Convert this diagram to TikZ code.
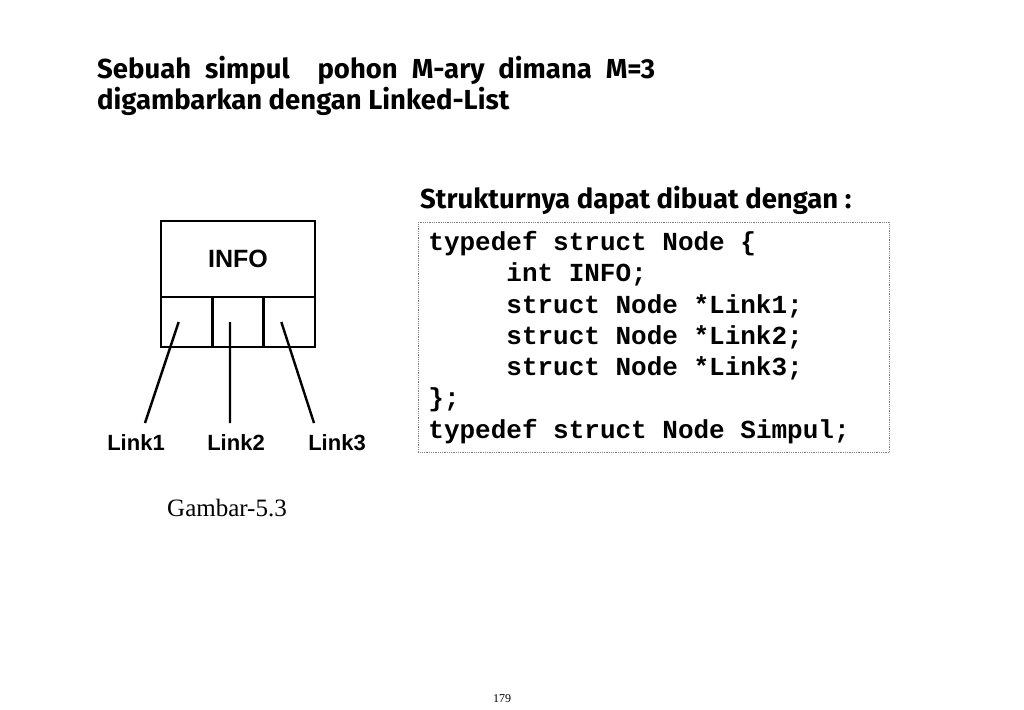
\documentclass[tikz,border=0pt]{standalone}
\usepackage{fontspec}
\usepackage{tikz}
\usetikzlibrary{positioning}
\setmainfont{Liberation Serif}
\newfontfamily\comicfont{Fira Sans}
\newfontfamily\arialfont{Liberation Sans}
\newfontfamily\courfont{Liberation Mono}
\newcommand{\spasi}{\hspace*{15.6pt}}
\newcommand{\tab}{\hspace*{78pt}}

\begin{document}
\begin{tikzpicture}[x=1pt,y=-1pt,
    judul/.style={anchor=west,inner sep=0pt,font=\comicfont\bfseries\fontsize{27.5}{31}\selectfont},
    kotak/.style={draw,line width=2.4pt,inner sep=0pt,outer sep=0pt},
    sel/.style={kotak,minimum width=51.33pt,minimum height=50pt,anchor=north west},
    linklabel/.style={inner sep=0pt,font=\arialfont\bfseries\fontsize{22}{26}\selectfont},
    garis/.style={line width=2.4pt}]
      \useasboundingbox (0,0) rectangle (1024,709);
      \node[judul] (j1) at (97,70) {\makebox[558pt][s]{Sebuah simpul\ \ pohon M-ary dimana M=3}};
      \node[judul] (j2) at (97,101) {digambarkan dengan Linked-List};
      \node[judul] (sub) at (420,200) {Strukturnya dapat dibuat dengan :};
      \node[kotak,minimum width=154pt,minimum height=76pt,
        font=\arialfont\bfseries\fontsize{25}{30}\selectfont] (info) at (238,259) {\raisebox{-4pt}{INFO}};
      \node[sel] (c1) at (info.south west) {};
      \node[sel] (c2) at (c1.north east) {};
      \node[sel] (c3) at (c2.north east) {};
      \node[linklabel] (l1) at (136,443) {Link1};
      \node[linklabel] (l2) at (236,443) {Link2};
      \node[linklabel] (l3) at (337,443) {Link3};
      \coordinate (e1) at (145,423);
      \coordinate (e2) at (230,423);
      \coordinate (e3) at (314,423);
      \draw[garis] ([xshift=-8pt]c1.center) -- (e1);
      \draw[garis] ([xshift=-8pt]c2.center) -- (e2);
      \draw[garis] ([xshift=-8pt]c3.center) -- (e3);
      \node[font=\fontsize{25}{28}\selectfont,below=44pt of l2,xshift=-9pt] (gbr) {Gambar-5.3};
      \node[draw=gray,densely dotted,line width=0.8pt,anchor=north west,minimum width=471pt,
        minimum height=230pt,text width=451pt,inner xsep=10pt,align=left,
        font=\courfont\bfseries\fontsize{26}{31.3}\selectfont] (kode) at (418,222) {%
        typedef\spasi struct\spasi Node\spasi\{\\
        \tab int\spasi INFO;\\
        \tab struct\spasi Node\spasi *Link1;\\
        \tab struct\spasi Node\spasi *Link2;\\
        \tab struct\spasi Node\spasi *Link3;\\
        \};\\
        typedef\spasi struct\spasi Node\spasi Simpul;};
      \node[font=\fontsize{12}{14}\selectfont] (hal) at (502,699) {179};
    \end{tikzpicture}
\end{document}
